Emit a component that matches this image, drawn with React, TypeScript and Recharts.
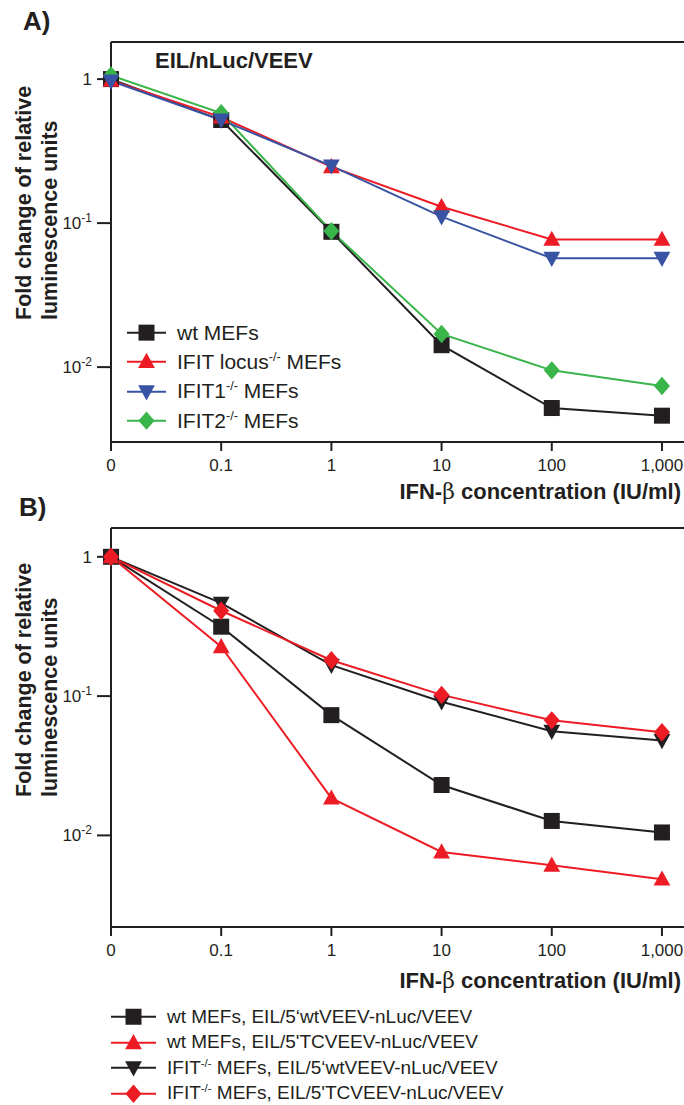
import React from "react";
import { LineChart, Line, XAxis, YAxis, ReferenceLine, Legend } from "recharts";

const doses = ["0", "0.1", "1", "10", "100", "1,000"];

// panel A: EIL/nLuc/VEEV
const wtA = [1.0, 0.52, 0.087, 0.0142, 0.0052, 0.0046];
const locusA = [0.98, 0.545, 0.246, 0.13, 0.077, 0.077];
const ifit1A = [0.97, 0.52, 0.25, 0.111, 0.057, 0.057];
const ifit2A = [1.06, 0.58, 0.088, 0.017, 0.0095, 0.0074];

// panel B
const wtWtB = [1.0, 0.315, 0.073, 0.023, 0.0127, 0.0105];
const wtTcB = [1.0, 0.226, 0.0185, 0.0076, 0.0061, 0.00485];
const ifitWtB = [1.0, 0.465, 0.167, 0.091, 0.056, 0.048];
const ifitTcB = [1.0, 0.41, 0.181, 0.102, 0.067, 0.055];

const yTicks = [1, 0.1, 0.01];

const INK = "#231f20";
const RED = "#ed1c24";
const BLUE = "#3953a4";
const GREEN = "#39b54a";
const FONT = "'Liberation Sans', Arial, sans-serif";

const dataA = doses.map((d, i) => ({ x: i, wt: wtA[i], locus: locusA[i], ifit1: ifit1A[i], ifit2: ifit2A[i] }));
const dataB = doses.map((d, i) => ({ x: i, wtWt: wtWtB[i], wtTc: wtTcB[i], ifitWt: ifitWtB[i], ifitTc: ifitTcB[i] }));

// legend order; draw decides what sits on top
const seriesA = [
  { key: "wt", color: INK, shape: "square", pre: "wt MEFs", sup: "", post: "", draw: 0 },
  { key: "locus", color: RED, shape: "up", pre: "IFIT locus", sup: "-/-", post: " MEFs", draw: 1 },
  { key: "ifit1", color: BLUE, shape: "down", pre: "IFIT1", sup: "-/-", post: " MEFs", draw: 3 },
  { key: "ifit2", color: GREEN, shape: "diamond", pre: "IFIT2", sup: "-/-", post: " MEFs", draw: 2 },
];

const seriesB = [
  { key: "wtWt", color: INK, shape: "square", pre: "wt MEFs, EIL/5\u2018wtVEEV-nLuc/VEEV", sup: "", post: "", draw: 0 },
  { key: "wtTc", color: RED, shape: "up", pre: "wt MEFs, EIL/5'TCVEEV-nLuc/VEEV", sup: "", post: "", draw: 3 },
  { key: "ifitWt", color: INK, shape: "down", pre: "IFIT", sup: "-/-", post: " MEFs, EIL/5\u2018wtVEEV-nLuc/VEEV", draw: 1 },
  { key: "ifitTc", color: RED, shape: "diamond", pre: "IFIT", sup: "-/-", post: " MEFs, EIL/5'TCVEEV-nLuc/VEEV", draw: 2 },
];

function Marker({ cx, cy, shape, color, size = 16 }: any) {
  const s = size / 2;
  if (shape === "square") return <rect x={cx - s} y={cy - s} width={size} height={size} fill={color} />;
  if (shape === "up")
    return <polygon points={`${cx},${cy - s * 1.1} ${cx + s * 1.05},${cy + s * 0.8} ${cx - s * 1.05},${cy + s * 0.8}`} fill={color} />;
  if (shape === "down")
    return <polygon points={`${cx},${cy + s * 1.1} ${cx + s * 1.05},${cy - s * 0.8} ${cx - s * 1.05},${cy - s * 0.8}`} fill={color} />;
  return <polygon points={`${cx},${cy - s * 1.15} ${cx + s},${cy} ${cx},${cy + s * 1.15} ${cx - s},${cy}`} fill={color} />;
}

function YTick({ x, y, payload }: any) {
  const v = payload.value;
  const exp = Math.round(Math.log10(v));
  return (
    <text x={x} y={y} dy="0.35em" textAnchor="end" fill={INK} fontSize={17} fontFamily={FONT}>
      {exp === 0 ? (
        "1"
      ) : (
        <>
          <tspan>10</tspan>
          <tspan dy={-7} fontSize={12}>{String(exp)}</tspan>
        </>
      )}
    </text>
  );
}

function LegendBox({ series, rowH, fontSize, lineW, markerSize, gap }: any) {
  return (
    <div style={{ fontFamily: FONT, fontSize, color: INK }}>
      {series.map((s: any) => (
        <div key={s.key} style={{ height: rowH, display: "flex", alignItems: "center", whiteSpace: "nowrap" }}>
          <svg width={lineW} height={rowH} style={{ flex: "none" }}>
            <line x1={0} x2={lineW} y1={rowH / 2} y2={rowH / 2} stroke={s.color} strokeWidth={2} />
            <Marker cx={lineW / 2} cy={rowH / 2} shape={s.shape} color={s.color} size={markerSize} />
          </svg>
          <span style={{ marginLeft: gap }}>
            {s.pre}
            {s.sup ? <sup style={{ fontSize: "0.6em", verticalAlign: "0.6em" }}>{s.sup}</sup> : null}
            {s.post}
          </span>
        </div>
      ))}
    </div>
  );
}

function Panel({ data, series, domain, top, height, axisHeight, legend }: any) {
  const drawn = [...series].sort((a, b) => a.draw - b.draw);
  return (
    <div style={{ position: "absolute", left: 0, top }}>
      <LineChart width={684} height={height} data={data} margin={{ top: 42, right: 0, bottom: 0, left: 0 }}>
        <XAxis
          dataKey="x"
          type="number"
          domain={[0, 5.2]}
          ticks={[0, 1, 2, 3, 4, 5]}
          interval={0}
          tickFormatter={(v: number) => doses[v]}
          height={axisHeight}
          axisLine={{ stroke: INK, strokeWidth: 2 }}
          tickLine={{ stroke: INK, strokeWidth: 2 }}
          tickSize={9}
          tickMargin={8}
          tick={{ fill: INK, fontSize: 17, fontFamily: FONT }}
        />
        <YAxis
          type="number"
          scale="log"
          domain={domain}
          ticks={yTicks}
          interval={0}
          width={111}
          axisLine={{ stroke: INK, strokeWidth: 2 }}
          tickLine={{ stroke: INK, strokeWidth: 2 }}
          tickSize={14}
          tickMargin={5}
          tick={(p: any) => <YTick {...p} />}
        />
        <ReferenceLine y={domain[1]} stroke={INK} strokeWidth={2} />
        {drawn.map((s: any) => (
          <Line
            key={s.key}
            dataKey={s.key}
            type="linear"
            stroke={s.color}
            strokeWidth={2}
            isAnimationActive={false}
            dot={(p: any) => <Marker key={`${s.key}-${p.index}`} cx={p.cx} cy={p.cy} shape={s.shape} color={s.color} />}
          />
        ))}
        <Legend
          layout="vertical"
          align="center"
          verticalAlign="middle"
          wrapperStyle={{ left: legend.left, top: legend.top, width: 540 }}
          content={() => <LegendBox series={series} {...legend} />}
        />
      </LineChart>
    </div>
  );
}

export default function App() {
  return (
    <div style={{ position: "absolute", left: 0, top: 0, width: 684, height: 1105, overflow: "hidden", background: "#fff" }}>
      <Panel
        data={dataA}
        series={seriesA}
        domain={[0.00302, 1.81]}
        top={0}
        height={500}
        axisHeight={58}
        legend={{ left: 127, top: 318, rowH: 29.3, fontSize: 21, lineW: 39, markerSize: 16, gap: 11 }}
      />
      <Panel
        data={dataB}
        series={seriesB}
        domain={[0.0022, 1.61]}
        top={486}
        height={619}
        axisHeight={178}
        legend={{ left: 111, top: 518, rowH: 25.5, fontSize: 19, lineW: 45, markerSize: 16, gap: 11 }}
      />
      <svg width={684} height={1105} style={{ position: "absolute", left: 0, top: 0, pointerEvents: "none" }} fontFamily={FONT} fill={INK}>
        <text x={23} y={30} fontSize={26} fontWeight="bold">A)</text>
        <text x={19} y={516} fontSize={26} fontWeight="bold">B)</text>
        <text x={155} y={68} fontSize={22} fontWeight="bold">EIL/nLuc/VEEV</text>
        <text x={681} y={499} fontSize={22} fontWeight="bold" textAnchor="end">
          IFN-<tspan fontFamily="'DejaVu Serif', serif" fontWeight="normal">β</tspan> concentration (IU/ml)
        </text>
        <text x={681} y={988} fontSize={22} fontWeight="bold" textAnchor="end">
          IFN-<tspan fontFamily="'DejaVu Serif', serif" fontWeight="normal">β</tspan> concentration (IU/ml)
        </text>
        {[320, 797].map((y0) => (
          <g key={y0} fontSize={21.5} fontWeight="bold">
            <text transform={`translate(31 ${y0}) rotate(-90)`}>Fold change of relative</text>
            <text transform={`translate(57 ${y0}) rotate(-90)`}>luminescence units</text>
          </g>
        ))}
      </svg>
    </div>
  );
}
